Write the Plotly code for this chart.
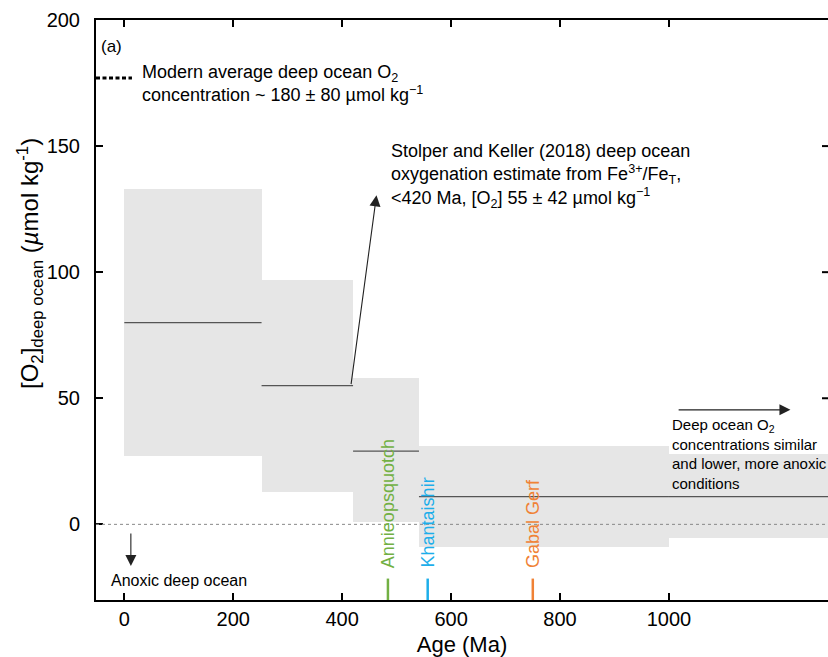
import plotly.graph_objects as go

# ---- data ----
age_start = [0, 252, 420, 541, 1000]
age_end = [252, 420, 541, 1000, 1300]
o2_mean = [80, 55, 29, 11, 11]
o2_low = [27, 13, 1, -9, -5.5]
o2_high = [133, 97, 58, 31, 28]

site_names = ["Annieopsquotch", "Khantaishir", "Gabal Gerf"]
site_ages = [484, 557, 750]
site_colors = ["#72B043", "#1DAEEA", "#F08236"]

modern_o2 = 177
x_ticks = [0, 200, 400, 600, 800, 1000]
y_ticks = [0, 50, 100, 150, 200]

FONT = "Liberation Sans, Arial, Helvetica, sans-serif"

fig = go.Figure()

# gray uncertainty boxes
fig.add_trace(go.Bar(
    x=[(a + b) / 2 for a, b in zip(age_start, age_end)],
    width=[b - a for a, b in zip(age_start, age_end)],
    base=o2_low,
    y=[h - l for h, l in zip(o2_high, o2_low)],
    marker=dict(color="#E6E6E6", line=dict(width=0)),
    showlegend=False, hoverinfo="skip",
))

# mean lines
for a, b, m in zip(age_start, age_end, o2_mean):
    fig.add_trace(go.Scatter(x=[a, b], y=[m, m], mode="lines",
                             line=dict(color="#555555", width=1.2),
                             showlegend=False, hoverinfo="skip"))

# modern deep ocean O2 dotted marker
fig.add_trace(go.Scatter(x=[-52, 14], y=[modern_o2, modern_o2], mode="lines",
                         line=dict(color="black", width=3, dash="4px,2.5px"),
                         showlegend=False, hoverinfo="skip"))

# site markers
for name, age, col in zip(site_names, site_ages, site_colors):
    fig.add_trace(go.Scatter(x=[age, age], y=[-30, -21.5], mode="lines",
                             line=dict(color=col, width=2.5),
                             showlegend=False, hoverinfo="skip"))

annotations = []
for name, age, col in zip(site_names, site_ages, site_colors):
    annotations.append(dict(x=age, y=-18, xref="x", yref="y", text=name,
                            showarrow=False, textangle=-90, xanchor="center",
                            yanchor="bottom",
                            font=dict(family=FONT, size=18, color=col)))

ARW = dict(showarrow=True, arrowhead=2, arrowsize=2.0, arrowwidth=1.1,
           arrowcolor="#222222", text="")

annotations += [
    dict(x=-46, y=189.5, xref="x", yref="y", text="(a)", showarrow=False,
         xanchor="left", yanchor="middle", font=dict(family=FONT, size=17, color="black")),
    dict(x=28, y=175, xref="x", yref="y",
         text="Modern average deep ocean O<sub>2</sub><br>concentration ~ 180 ± 80 µmol kg<sup>−1</sup>",
         showarrow=False, xanchor="left", yanchor="middle", align="left",
         font=dict(family=FONT, size=18, color="black")),
    dict(x=486, y=138, xref="x", yref="y",
         text="Stolper and Keller (2018) deep ocean<br>oxygenation estimate from Fe<sup>3+</sup>/Fe<sub>T</sub>,<br>&lt;420 Ma, [O<sub>2</sub>] 55 ± 42 µmol kg<sup>−1</sup>",
         showarrow=False, xanchor="left", yanchor="middle", align="left",
         font=dict(family=FONT, size=18, color="black")),
    dict(x=1002, y=28, xref="x", yref="y",
         text="Deep ocean O<sub>2</sub><br>concentrations similar<br>and lower, more anoxic<br>conditions",
         showarrow=False, xanchor="left", yanchor="middle", align="left",
         font=dict(family=FONT, size=15, color="black")),
    dict(x=-29, y=-22.2, xref="x", yref="y", text="Anoxic deep ocean",
         showarrow=False, xanchor="left", yanchor="middle",
         font=dict(family=FONT, size=16, color="black")),
    # arrows
    dict(x=463, y=130.5, ax=416, ay=55, xref="x", yref="y", axref="x", ayref="y", **ARW),
    dict(x=12, y=-16.5, ax=12, ay=-3, xref="x", yref="y", axref="x", ayref="y", **ARW),
    dict(x=1223, y=45.4, ax=1015, ay=45.4, xref="x", yref="y", axref="x", ayref="y", **ARW),
    # y-axis title
    dict(x=0, y=0.5, xref="paper", yref="paper", xshift=-66, yshift=46,
         text="[O<sub>2</sub>]<sub>deep ocean</sub> (<i>µ</i>mol kg<sup>-1</sup>)",
         showarrow=False, textangle=-90, xanchor="center", yanchor="middle",
         font=dict(family=FONT, size=24, color="black")),
]

shapes = [
    dict(type="line", xref="paper", yref="y", x0=0, x1=1, y0=0, y1=0,
         line=dict(color="#888888", width=1, dash="3px,3px"), layer="above"),
]
for yv in [50, 100, 150]:
    shapes.append(dict(type="line", xref="paper", yref="y", x0=1 - 6 / 732, x1=1,
                       y0=yv, y1=yv, line=dict(color="black", width=2)))

fig.update_layout(
    width=828, height=657,
    margin=dict(l=96, r=0, t=20, b=57),
    plot_bgcolor="white", paper_bgcolor="white",
    bargap=0,
    annotations=annotations, shapes=shapes,
    xaxis=dict(range=[-52, 1292], tickvals=x_ticks, ticks="inside", ticklen=7,
               tickwidth=2, tickcolor="black", showline=True, linewidth=2,
               linecolor="black", mirror="ticks", showgrid=False, zeroline=False,
               tickfont=dict(family=FONT, size=20, color="black"),
               title=dict(text="Age (Ma)", font=dict(family=FONT, size=22, color="black"),
                          standoff=8)),
    yaxis=dict(range=[-30, 200], tickvals=y_ticks, ticks="inside", ticklen=7,
               tickwidth=2, tickcolor="black", showline=True, linewidth=2,
               linecolor="black", mirror=False, showgrid=False, zeroline=False,
               ticklabelstandoff=10,
               tickfont=dict(family=FONT, size=20, color="black")),
)

fig.write_html("out.html")
